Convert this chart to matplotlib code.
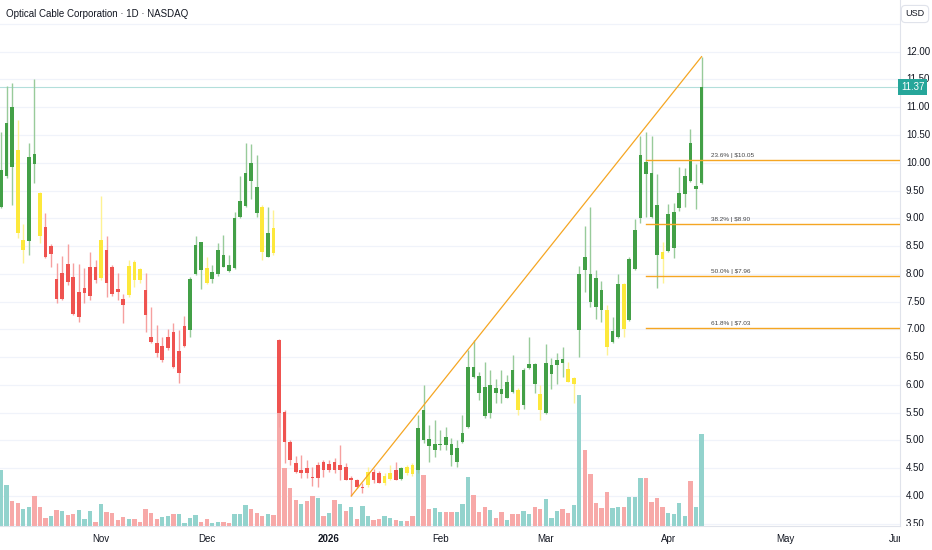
import numpy as np
import matplotlib
matplotlib.use("Agg")
import matplotlib.pyplot as plt
from matplotlib.colors import to_rgb
from matplotlib.transforms import Bbox, TransformedBbox, blended_transform_factory

plt.rcParams['font.family'] = ['Liberation Sans', 'DejaVu Sans']

# daily OHLC, Oct 2025 -> Apr 10 2026 (one value per trading day)
opens = [9.21, 9.76, 11.01, 10.23, 8.43, 8.60, 10.16, 9.45, 8.84, 8.36,
         7.90, 7.55, 8.18, 7.95, 7.23, 7.65, 7.60, 8.12, 7.92, 8.43,
         8.13, 7.73, 7.54, 7.62, 8.22, 8.08, 7.71, 6.87, 6.76, 6.44,
         6.66, 6.96, 6.22, 6.70, 6.98, 8.00, 8.57, 8.11, 7.90, 8.00,
         8.34, 8.16, 8.10, 9.02, 9.22, 9.99, 9.57, 9.20, 8.31, 8.83,
         6.81, 5.52, 4.98, 4.60, 4.41, 4.50, 4.35, 4.32, 4.62, 4.47,
         4.62, 4.46, 4.52, 4.28, 4.28, 4.14, 4.20, 4.44, 4.41, 4.23,
         4.30, 4.47, 4.30, 4.52, 4.56, 4.47, 5.55, 5.02, 4.83, 4.91,
         5.06, 4.94, 4.62, 4.98, 5.25, 6.33, 6.16, 5.97, 5.49, 5.94,
         5.92, 5.77, 6.26, 5.90, 5.63, 6.30, 6.38, 5.83, 5.49, 6.19,
         6.35, 6.46, 6.28, 6.01, 6.99, 8.31, 8.00, 7.93, 7.70, 7.35,
         6.78, 6.86, 7.81, 7.17, 8.08, 9.00, 10.01, 9.82, 9.24, 8.40,
         8.42, 8.47, 9.18, 9.44, 10.35, 9.52, 9.63]
highs = [10.56, 11.38, 11.44, 10.77, 8.90, 10.35, 11.50, 9.47, 9.10, 8.53,
         8.19, 8.33, 8.54, 8.20, 8.18, 8.10, 8.40, 8.25, 9.40, 8.68,
         8.15, 8.01, 7.64, 8.25, 8.25, 8.11, 8.01, 7.41, 7.08, 6.87,
         7.00, 7.11, 6.98, 7.24, 7.94, 8.68, 8.58, 8.31, 8.16, 8.56,
         8.70, 8.34, 9.12, 9.76, 10.36, 10.34, 10.14, 9.24, 9.20, 9.15,
         6.82, 5.55, 5.00, 4.72, 4.74, 4.65, 4.53, 4.62, 4.65, 4.64,
         4.69, 4.92, 4.60, 4.36, 4.30, 4.23, 4.53, 4.48, 4.45, 4.41,
         4.56, 4.62, 4.53, 4.55, 4.59, 5.46, 6.00, 5.28, 5.36, 5.19,
         5.25, 5.04, 5.01, 5.46, 6.63, 6.81, 6.23, 6.42, 6.26, 6.10,
         6.26, 6.18, 6.54, 5.94, 6.31, 6.87, 6.40, 6.00, 6.74, 6.49,
         6.58, 6.69, 6.41, 6.15, 8.14, 8.87, 9.21, 8.07, 7.87, 7.44,
         7.23, 8.00, 7.83, 8.31, 8.98, 10.48, 10.56, 10.48, 9.80, 8.58,
         9.26, 9.27, 9.92, 9.90, 10.60, 9.98, 11.91]
lows = [9.19, 9.73, 9.24, 8.65, 8.20, 8.34, 9.63, 8.56, 8.29, 8.12,
        7.47, 7.52, 7.80, 7.26, 7.14, 7.47, 7.52, 7.83, 7.89, 7.59,
        7.60, 7.53, 7.12, 7.59, 7.77, 7.84, 6.96, 6.76, 6.51, 6.42,
        6.63, 6.30, 6.03, 6.69, 6.87, 7.98, 7.72, 7.82, 7.83, 7.96,
        8.12, 8.04, 8.08, 9.00, 9.20, 9.34, 9.02, 8.25, 8.30, 8.34,
        5.25, 4.59, 4.56, 4.41, 4.33, 4.32, 4.18, 4.17, 4.35, 4.44,
        4.41, 4.29, 4.28, 4.00, 4.14, 4.06, 4.17, 4.24, 4.23, 4.20,
        4.29, 4.28, 4.29, 4.38, 4.36, 4.41, 4.95, 4.62, 4.70, 4.83,
        4.82, 4.54, 4.52, 4.95, 5.23, 6.12, 5.72, 5.40, 5.40, 5.67,
        5.67, 5.76, 5.85, 5.46, 5.56, 6.28, 5.85, 5.37, 5.47, 5.92,
        6.02, 6.15, 6.05, 5.68, 6.51, 7.68, 7.41, 7.18, 7.14, 6.54,
        6.76, 6.84, 6.86, 7.15, 8.06, 8.91, 9.03, 9.01, 7.74, 7.84,
        8.40, 8.28, 9.14, 9.20, 9.66, 9.16, 9.62]
closes = [9.87, 10.71, 9.93, 8.73, 8.61, 10.11, 9.98, 8.69, 8.31, 8.51,
          7.54, 8.02, 7.85, 7.28, 7.68, 7.74, 8.12, 7.88, 8.61, 7.84,
          7.64, 7.67, 7.44, 8.14, 7.88, 7.88, 7.26, 6.78, 6.58, 6.70,
          6.86, 6.32, 6.61, 7.06, 7.90, 8.52, 8.07, 7.83, 8.03, 8.43,
          8.13, 8.05, 9.00, 9.31, 9.82, 9.68, 9.09, 8.40, 8.73, 8.38,
          5.50, 4.98, 4.65, 4.44, 4.47, 4.42, 4.32, 4.56, 4.47, 4.58,
          4.47, 4.56, 4.29, 4.32, 4.17, 4.17, 4.44, 4.29, 4.24, 4.36,
          4.42, 4.29, 4.50, 4.41, 4.40, 5.22, 5.01, 4.90, 4.93, 4.94,
          4.92, 4.74, 4.87, 5.13, 6.33, 6.14, 5.86, 5.44, 5.99, 5.86,
          5.84, 6.06, 5.87, 5.54, 6.26, 6.38, 6.02, 5.55, 6.40, 6.36,
          6.45, 6.39, 6.06, 6.12, 7.99, 8.07, 7.49, 7.41, 7.34, 6.69,
          6.97, 7.81, 7.00, 8.26, 8.79, 10.14, 9.80, 9.03, 8.34, 8.26,
          9.08, 9.12, 9.45, 9.76, 9.68, 9.58, 11.37]
# volume, thousands of shares
volumes = [560, 413, 253, 227, 173, 187, 303, 193, 83, 97,
           157, 150, 107, 117, 157, 67, 150, 43, 217, 143,
           130, 63, 87, 73, 73, 40, 173, 130, 73, 90,
           97, 117, 123, 33, 80, 107, 40, 67, 33, 40,
           40, 33, 117, 117, 207, 167, 127, 97, 117, 107,
           1137, 585, 380, 263, 220, 253, 303, 278, 103, 130,
           260, 223, 150, 190, 70, 197, 105, 65, 70, 100,
           82, 65, 53, 55, 100, 560, 510, 170, 177, 143,
           143, 143, 143, 220, 490, 310, 143, 193, 160, 77,
           140, 60, 125, 120, 150, 123, 190, 170, 267, 80,
           155, 170, 135, 215, 1307, 760, 525, 227, 177, 343,
           177, 187, 187, 287, 287, 477, 477, 243, 277, 187,
           127, 120, 227, 100, 453, 193, 920]
# bar colouring signal: g = bullish, r = bearish, y = neutral
tone = list("gggyyggyrr" "rrrrrrrryr" "rrryyyrrrr" "rrrrgggygg" "gggggggygy"
            "rrrrrrrrrr" "rrrrrryrry" "yrgyyggggg" "gggggggggg" "gggygggygg"
            "ggyygggggy" "ggyggggggy" "ggggggg")

# month labels and the trading-day index they fall on
month_labels = ["Nov", "Dec", "2026", "Feb", "Mar", "Apr", "May", "Jun"]
month_index = [18, 37, 59, 79, 98, 120, 141, 161]

# fibonacci retracement drawn on the last leg
fib_ratios = [23.6, 38.2, 50.0, 61.8]
fib_prices = [10.05, 8.90, 7.96, 7.03]
fib_start = 116
trend_from, trend_to = 63, 126

o = np.array(opens); h = np.array(highs); l = np.array(lows); c = np.array(closes)
x = np.arange(len(o))

body_col = {'g': '#43a047', 'r': '#ef5350', 'y': '#fde83b'}


def lighten(col, a=0.5):
    r, g, b = to_rgb(col)
    return (1 - a + a * r, 1 - a + a * g, 1 - a + a * b)


W, H = 932, 550
fig = plt.figure(figsize=(W / 100, H / 100), dpi=100)
rect = [0, 24 / H, 900 / W, 526 / H]
xlim = (-0.18, 161.69)
ylim = (3.46, 12.93)

# background grid
axg = fig.add_axes(rect)
axg.set_xlim(*xlim); axg.set_ylim(*ylim)
for p in np.arange(3.5, 13.0, 0.5):
    axg.axhline(p, color='#f0f3fa', lw=0.9)
axg.axis('off')

# volume pane overlay
axv = fig.add_axes(rect)
axv.set_xlim(*xlim)
axv.set_ylim(0, 5260)
up = c >= o
vcol = np.where(up, '#26a69a', '#ef5350')
axv.bar(x, volumes, width=0.78, color=[lighten(v, 0.5) for v in vcol])
axv.axis('off')
axv.patch.set_visible(False)

# price pane
ax = fig.add_axes(rect)
ax.set_xlim(*xlim); ax.set_ylim(*ylim)
ax.patch.set_visible(False)
cols = [body_col[t] for t in tone]
ax.vlines(x, l, h, colors=[lighten(k, 0.55) for k in cols], lw=1, zorder=2)
bot = np.minimum(o, c)
hgt = np.maximum(np.abs(c - o), 0.03)
ax.bar(x, hgt, bottom=bot, width=0.66, color=cols, zorder=3)

# last price line
ax.axhline(c[-1], color='#26a69a', alpha=0.35, lw=0.8, zorder=1)

# trend line + fib levels
ax.plot([trend_from, trend_to], [l[trend_from], h[trend_to]], color='#f5a623', lw=0.9, zorder=4)
for r, p in zip(fib_ratios, fib_prices):
    ax.plot([fib_start, xlim[1]], [p, p], color='#f5a623', lw=1.0, zorder=4)
    ax.annotate(f"{r:.1f}% | ${p:.2f}", (fib_start + 11.7, p), xytext=(0, 1.2),
                textcoords='offset points', fontsize=4.6, color='#444444',
                ha='left', va='bottom', zorder=5)

ax.set_xticks([]); ax.set_yticks([])
for s in ['top', 'left']:
    ax.spines[s].set_visible(False)
for s in ['right', 'bottom']:
    ax.spines[s].set_color('#e0e3eb')
    ax.spines[s].set_linewidth(0.8)

# price scale on the right
right_band = TransformedBbox(Bbox([[900 / W, 24 / H], [1, 1]]), fig.transFigure)
ytrans = blended_transform_factory(ax.transAxes, ax.transData)
for p in np.arange(3.5, 12.01, 0.5):
    t = ax.text(1 + 6 / 900, p, f"{p:.2f}", transform=ytrans, fontsize=7,
                color='#131722', ha='left', va='center', clip_on=True)
    t.set_clip_box(right_band)
ax.text(1 + 1 / 900, c[-1], f"{c[-1]:.2f}", transform=ytrans, fontsize=7,
        color='white', ha='left', va='center', clip_on=False, zorder=10,
        bbox=dict(boxstyle='square,pad=0.3', fc='#26a69a', ec='none'))

# time scale
time_band = TransformedBbox(Bbox([[0, 0], [900 / W, 24 / H]]), fig.transFigure)
xtrans = blended_transform_factory(ax.transData, ax.transAxes)
for lab, i in zip(month_labels, month_index):
    t = ax.text(i, -13 / 526, lab, transform=xtrans, fontsize=7, color='#131722',
                ha='center', va='center', clip_on=True,
                fontweight='bold' if lab.isdigit() else 'normal')
    t.set_clip_box(time_band)

fig.text(6 / W, 1 - 14 / H, "Optical Cable Corporation · 1D · NASDAQ",
         fontsize=7, color='#131722', ha='left', va='center')
fig.text(915 / W, 1 - 14 / H, "USD", fontsize=6.5, color='#131722', ha='center',
         va='center', bbox=dict(boxstyle='round,pad=0.45', fc='white', ec='#e0e3eb', lw=0.8))

fig.savefig("out.png", dpi=100)
